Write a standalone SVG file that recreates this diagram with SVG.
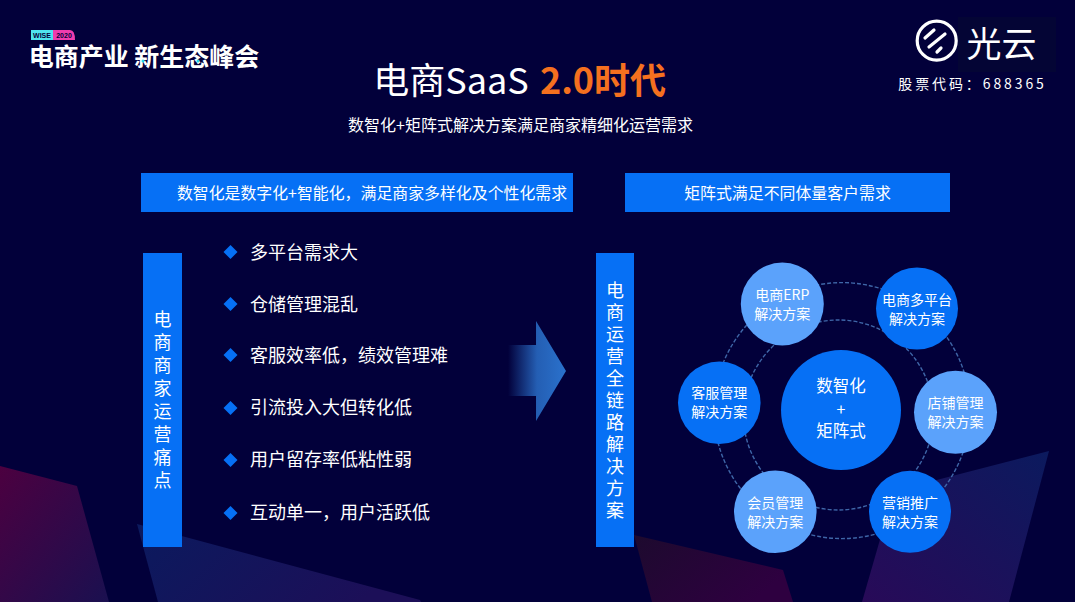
<svg xmlns="http://www.w3.org/2000/svg" width="1075" height="602" viewBox="0 0 1075 602">
<style>
text{font-family:"Noto Sans CJK SC","Liberation Sans",sans-serif;fill:#fff;text-anchor:middle;font-weight:400}
.blue{fill:#0670f5}.light{fill:#5ba2fb}
.b{font-size:15.900px}.c{font-size:14px}
.v{font-size:18px;writing-mode:vertical-rl;text-anchor:start}
.li{font-size:18px;text-anchor:start}
.ring{fill:none;stroke:#3f66a8;stroke-width:1.400;stroke-dasharray:4 2}
.dk{fill:#02003a;font-size:7px;font-weight:700;font-family:"Liberation Sans",sans-serif}
</style>
<defs>
<linearGradient id="g1" x1="0" y1="0" x2="1" y2="1"><stop offset="0" stop-color="#4c0040"/><stop offset="1" stop-color="#1a1050"/></linearGradient>
<linearGradient id="g2" x1="0" y1="0" x2="1" y2="0.3"><stop offset="0" stop-color="#0b1a5e"/><stop offset="1" stop-color="#1c0f58"/></linearGradient>
<linearGradient id="g3" x1="0" y1="0" x2="1" y2="0.5"><stop offset="0" stop-color="#1d0a2e"/><stop offset="1" stop-color="#2e0040"/></linearGradient>
<linearGradient id="g4" x1="1" y1="0" x2="0" y2="1"><stop offset="0" stop-color="#0b1a5e"/><stop offset="1" stop-color="#280a58"/></linearGradient>
<linearGradient id="ga" x1="508" y1="0" x2="566" y2="0" gradientUnits="userSpaceOnUse"><stop offset="0" stop-color="#2a6fc9" stop-opacity="0"/><stop offset="0.5" stop-color="#2a6fc9" stop-opacity=".85"/><stop offset="1" stop-color="#2a72cd"/></linearGradient>
<path id="d" d="M0-7L7 0L0 7L-7 0Z" fill="#0670f5"/>
</defs>
<rect width="1075" height="602" fill="#02003a"/>
<g id="background">
<polygon points="0,466 77,486 109,602 0,602" fill="url(#g1)"/>
<polygon points="137,524 420,600 421,602 158,602" fill="url(#g2)"/>
<polygon points="634,535 783,570 793,602 652,602" fill="url(#g3)"/>
<polygon points="894,491 1049,451 1009,602 862,602" fill="url(#g4)"/>
</g>
<g id="event-logo">
<path d="M31 30H53V40H31Z" fill="#4fe3ee"/>
<path d="M53 30H70Q75 30 75 40H53Z" fill="#f03cae"/>
<text x="42" y="37.800" class="dk">WISE</text>
<text x="64" y="37.800" class="dk">2020</text>
<text x="144" y="66" font-size="25" style="font-weight:700">电商产业 新生态峰会</text>
<circle cx="143" cy="61" r="1.500" fill="#22d8e8"/><circle cx="198" cy="61" r="1.500" fill="#22d8e8"/>
</g>
<g id="brand-logo">
<rect x="958" y="17" width="98" height="55" fill="#040535"/>
<circle cx="936.700" cy="40.700" r="19.500" fill="none" stroke="#fff" stroke-width="3.200"/>
<g stroke="#fff" stroke-width="3.200" stroke-linecap="round"><path d="M925 38L934 30M929 47L945 34M937 52L941 48"/></g>
<text x="1001.500" y="56.500" font-size="35">光云</text>
<text x="972.500" y="89" font-size="14" letter-spacing="2.900">股票代码：688365</text>
</g>
<g id="title">
<text x="451" y="94" font-size="36">电商SaaS</text>
<text x="603" y="94" font-size="36" style="fill:#f5701f;font-weight:700">2.0时代</text>
<text x="520.500" y="131" font-size="16">数智化+矩阵式解决方案满足商家精细化运营需求</text>
</g>
<g id="banner-left"><rect x="141" y="173" width="432" height="39" class="blue"/><text x="372" y="199" class="b">数智化是数字化+智能化，满足商家多样化及个性化需求</text></g>
<g id="banner-right"><rect x="625" y="173" width="325" height="39" class="blue"/><text x="787.500" y="199" class="b">矩阵式满足不同体量客户需求</text></g>
<g id="bar-left"><rect x="143" y="253" width="39" height="294" class="blue"/>
<text class="v" x="162.500" y="310" letter-spacing="5">电商商家运营痛点</text></g>
<g id="pain-points">
<use href="#d" x="230.500" y="252"/><text class="li" x="250" y="259">多平台需求大</text>
<use href="#d" x="230.500" y="304"/><text class="li" x="250" y="311">仓储管理混乱</text>
<use href="#d" x="230.500" y="355"/><text class="li" x="250" y="362">客服效率低，绩效管理难</text>
<use href="#d" x="230.500" y="408"/><text class="li" x="250" y="414">引流投入大但转化低</text>
<use href="#d" x="230.500" y="460"/><text class="li" x="250" y="466">用户留存率低粘性弱</text>
<use href="#d" x="230.500" y="513"/><text class="li" x="250" y="519">互动单一，用户活跃低</text>
</g>
<g id="arrow"><polygon points="508,345 536,345 536,321 566,371 536,421 536,396 508,396" fill="url(#ga)"/></g>
<g id="bar-right"><rect x="596" y="253" width="38" height="294" class="blue"/>
<text class="v" x="615" y="281" letter-spacing="4">电商运营全链路解决方案</text></g>
<g id="connectors">
<circle class="ring" cx="842" cy="410.600" r="128"/>
<circle class="ring" cx="838.500" cy="415" r="95"/>
</g>
<g id="center"><circle cx="841" cy="410" r="60" class="blue"/><text x="841" y="392" font-size="16.500">数智化</text><text x="841" y="415" font-size="16">+</text><text x="841" y="437" font-size="16.500">矩阵式</text></g>
<g id="node-erp"><circle cx="782.300" cy="304" r="41.500" class="light"/><text class="c" x="782.300" y="300">电商ERP</text><text class="c" x="782.300" y="319">解决方案</text></g>
<g id="node-platform"><circle cx="917" cy="308.500" r="41" class="blue"/><text class="c" x="917" y="305">电商多平台</text><text class="c" x="917" y="324">解决方案</text></g>
<g id="node-store"><circle cx="955.500" cy="412.300" r="41.500" class="light"/><text class="c" x="955.500" y="408">店铺管理</text><text class="c" x="955.500" y="427">解决方案</text></g>
<g id="node-marketing"><circle cx="910" cy="511.800" r="41" class="blue"/><text class="c" x="910" y="508">营销推广</text><text class="c" x="910" y="527">解决方案</text></g>
<g id="node-member"><circle cx="775.300" cy="511.800" r="41.300" class="light"/><text class="c" x="775.300" y="508">会员管理</text><text class="c" x="775.300" y="527">解决方案</text></g>
<g id="node-service"><circle cx="719.300" cy="402.800" r="41.300" class="blue"/><text class="c" x="719.300" y="398">客服管理</text><text class="c" x="719.300" y="417">解决方案</text></g>
</svg>
